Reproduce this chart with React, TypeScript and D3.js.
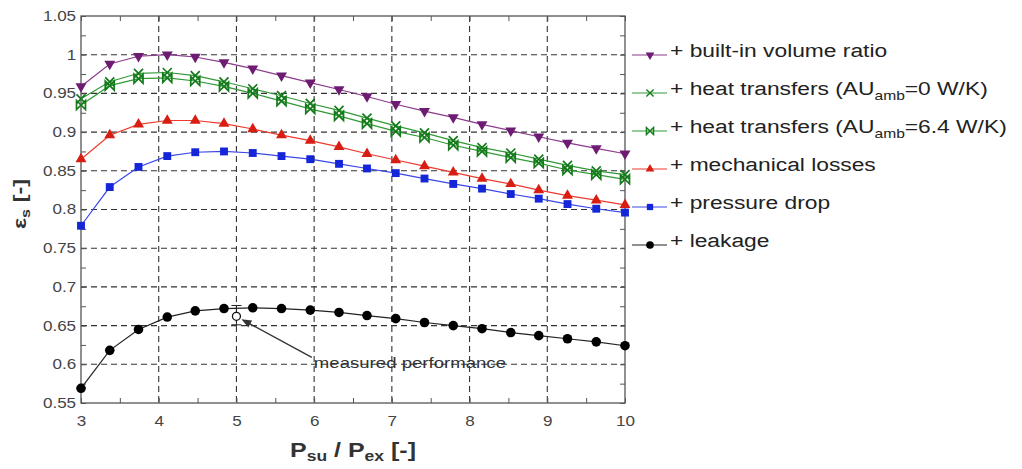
import { useEffect, useRef } from 'react';
import * as d3 from 'd3';

// pressure ratio Psu/Pex (x) and isentropic effectiveness for each model step
const pressureRatio = [3, 3.37, 3.74, 4.11, 4.47, 4.84, 5.21, 5.58, 5.95, 6.32, 6.68, 7.05, 7.42, 7.79, 8.16, 8.53, 8.89, 9.26, 9.63, 10];
const builtInVolume = [0.959, 0.988, 0.998, 1.0, 0.997, 0.99, 0.982, 0.973, 0.964, 0.955, 0.946, 0.936, 0.927, 0.919, 0.91, 0.902, 0.894, 0.886, 0.879, 0.872];
const heatTransfer0 = [0.943, 0.965, 0.976, 0.977, 0.973, 0.965, 0.956, 0.947, 0.937, 0.928, 0.918, 0.908, 0.899, 0.889, 0.88, 0.873, 0.865, 0.857, 0.85, 0.845];
const heatTransfer64 = [0.935, 0.96, 0.969, 0.97, 0.966, 0.959, 0.95, 0.94, 0.93, 0.921, 0.911, 0.901, 0.893, 0.883, 0.875, 0.867, 0.86, 0.851, 0.845, 0.839];
const mechanicalLosses = [0.865, 0.896, 0.91, 0.915, 0.915, 0.911, 0.904, 0.896, 0.889, 0.881, 0.872, 0.864, 0.856, 0.848, 0.84, 0.833, 0.825, 0.818, 0.812, 0.806];
const pressureDrop = [0.779, 0.829, 0.855, 0.869, 0.874, 0.875, 0.873, 0.869, 0.865, 0.859, 0.853, 0.847, 0.84, 0.833, 0.827, 0.82, 0.814, 0.807, 0.801, 0.796];
const leakage = [0.569, 0.618, 0.645, 0.661, 0.669, 0.672, 0.673, 0.672, 0.67, 0.667, 0.663, 0.659, 0.654, 0.65, 0.646, 0.641, 0.637, 0.633, 0.629, 0.624];

const xTicks = [3, 4, 5, 6, 7, 8, 9, 10];
const yTicks = [0.55, 0.6, 0.65, 0.7, 0.75, 0.8, 0.85, 0.9, 0.95, 1, 1.05];
const xMinorTicks = [3.5, 4.5, 5.5, 6.5, 7.5, 8.5, 9.5];
const yMinorTicks = [0.575, 0.625, 0.675, 0.725, 0.775, 0.825, 0.875, 0.925, 0.975, 1.025];

// measured point with its error bar, and where the annotation text sits
const measuredPoint = [5, 0.662];
const measuredError = [0.651, 0.676];
const annotationAt = [5.97, 0.609];
const annotationText = 'measured performance';

const FONT = '"Liberation Sans", Arial, Helvetica, sans-serif';
const SX = 1.22; // the source font is drawn wide

const series = [
  { values: builtInVolume, color: '#8c3a8c', mark: '#6e1c72', marker: 'triDown', label: [['+ built-in volume ratio']] },
  { values: heatTransfer0, color: '#2f9a35', mark: '#157a1c', marker: 'x', label: [['+ heat transfers (AU'], ['amb', 'sub'], ['=0 W/K)']] },
  { values: heatTransfer64, color: '#2f9a35', mark: '#157a1c', marker: 'bowtie', label: [['+ heat transfers (AU'], ['amb', 'sub'], ['=6.4 W/K)']] },
  { values: mechanicalLosses, color: '#ee3a2e', mark: '#d81e12', marker: 'triUp', label: [['+ mechanical losses']] },
  { values: pressureDrop, color: '#3a48e8', mark: '#1426d8', marker: 'square', label: [['+ pressure drop']] },
  { values: leakage, color: '#222', mark: '#000', marker: 'circle', label: [['+ leakage']] },
];

const drawMarker = (g, type, color) => {
  switch (type) {
    case 'triDown':
      return g.append('path').attr('d', d3.symbol(d3.symbolTriangle, 52)()).attr('transform', 'rotate(180)').attr('fill', color);
    case 'triUp':
      return g.append('path').attr('d', d3.symbol(d3.symbolTriangle, 52)()).attr('fill', color);
    case 'square':
      return g.append('path').attr('d', d3.symbol(d3.symbolSquare, 62)()).attr('fill', color);
    case 'circle':
      return g.append('path').attr('d', d3.symbol(d3.symbolCircle, 72)()).attr('fill', color);
    case 'x':
      return g.append('path').attr('d', 'M-4.5,-4.5L4.5,4.5M-4.5,4.5L4.5,-4.5').attr('stroke', color).attr('stroke-width', 1.7).attr('fill', 'none');
    case 'bowtie':
      return g.append('path').attr('d', 'M-4.5,-4.5L4.5,4.5L4.5,-4.5L-4.5,4.5Z').attr('stroke', color).attr('stroke-width', 1.7).attr('fill', 'none');
  }
};

const App = () => {
  const svgRef = useRef(null);

  useEffect(() => {
    const svg = d3.select(svgRef.current);
    svg.selectAll('*').remove();

    const x = d3.scaleLinear().domain([3, 10]).range([81, 625]);
    const y = d3.scaleLinear().domain([0.55, 1.05]).range([403, 16]);
    const [x0, x1] = x.range();
    const [y0, y1] = y.range();

    // dashed grid
    svg.append('g').selectAll('line').data(xTicks.slice(1, -1)).join('line')
      .attr('x1', d => x(d)).attr('x2', d => x(d)).attr('y1', y1).attr('y2', y0)
      .attr('stroke', '#333').attr('stroke-width', 1.1).attr('stroke-dasharray', '6,4');
    svg.append('g').selectAll('line').data(yTicks.slice(1, -1)).join('line')
      .attr('x1', x0).attr('x2', x1).attr('y1', d => y(d)).attr('y2', d => y(d))
      .attr('stroke', '#333').attr('stroke-width', 1.1).attr('stroke-dasharray', '6,4');

    // frame
    svg.append('rect').attr('x', x0).attr('y', y1).attr('width', x1 - x0).attr('height', y0 - y1)
      .attr('fill', 'none').attr('stroke', '#555').attr('stroke-width', 1.3);

    // ticks, all pointing inward
    const fmt = d => String(d);
    const blank = () => '';
    const styleAxis = g => {
      g.select('.domain').remove();
      g.attr('font-size', 14).attr('font-family', FONT);
      g.selectAll('line').attr('stroke', '#555');
      g.selectAll('text').attr('fill', '#444').attr('transform', `scale(${SX},1)`);
    };
    svg.append('g').attr('transform', `translate(0,${y0})`)
      .call(d3.axisBottom(x).tickValues(xTicks).tickSizeInner(-5).tickSizeOuter(0).tickPadding(13).tickFormat(fmt)).call(styleAxis);
    svg.append('g').attr('transform', `translate(0,${y0})`)
      .call(d3.axisBottom(x).tickValues(xMinorTicks).tickSizeInner(-5).tickSizeOuter(0).tickFormat(blank)).call(styleAxis);
    svg.append('g').attr('transform', `translate(0,${y1})`)
      .call(d3.axisTop(x).tickValues([...xTicks, ...xMinorTicks]).tickSizeInner(-5).tickSizeOuter(0).tickFormat(blank)).call(styleAxis);
    svg.append('g').attr('transform', `translate(${x0},0)`)
      .call(d3.axisLeft(y).tickValues(yTicks).tickSizeInner(-5).tickSizeOuter(0).tickPadding(4).tickFormat(fmt)).call(styleAxis);
    svg.append('g').attr('transform', `translate(${x0},0)`)
      .call(d3.axisLeft(y).tickValues(yMinorTicks).tickSizeInner(-5).tickSizeOuter(0).tickFormat(blank)).call(styleAxis);
    svg.append('g').attr('transform', `translate(${x1},0)`)
      .call(d3.axisRight(y).tickValues([...yTicks, ...yMinorTicks]).tickSizeInner(-5).tickSizeOuter(0).tickFormat(blank)).call(styleAxis);

    // series
    const line = d3.line().x(d => x(d[0])).y(d => y(d[1]));
    series.forEach(s => {
      const pts = pressureRatio.map((p, i) => [p, s.values[i]]);
      svg.append('path').datum(pts).attr('d', line)
        .attr('fill', 'none').attr('stroke', s.color).attr('stroke-width', 1.2);
      pts.forEach(p => {
        const g = svg.append('g').attr('transform', `translate(${x(p[0])},${y(p[1])})`);
        drawMarker(g, s.marker, s.mark);
      });
    });

    // measured performance point
    const [mx, my] = measuredPoint;
    const eb = svg.append('g').attr('stroke', '#222').attr('stroke-width', 1);
    eb.append('line').attr('x1', x(mx)).attr('x2', x(mx)).attr('y1', y(measuredError[0])).attr('y2', y(measuredError[1]));
    measuredError.forEach(v => {
      eb.append('line').attr('x1', x(mx) - 5).attr('x2', x(mx) + 5).attr('y1', y(v)).attr('y2', y(v));
    });
    svg.append('circle').attr('cx', x(mx)).attr('cy', y(my)).attr('r', 4)
      .attr('fill', '#fff').attr('stroke', '#111').attr('stroke-width', 1.3);

    // arrow
    const ax = x(annotationAt[0]), ay = y(annotationAt[1]);
    const tx = x(mx) + 5, ty = y(my) + 3;
    const ang = Math.atan2(ty - ay, tx - ax);
    svg.append('line').attr('x1', ax).attr('y1', ay).attr('x2', tx - 8 * Math.cos(ang)).attr('y2', ty - 8 * Math.sin(ang))
      .attr('stroke', '#333').attr('stroke-width', 1.3);
    svg.append('path').attr('d', 'M0,0L-10,-4L-10,4Z').attr('fill', '#333')
      .attr('transform', `translate(${tx},${ty}) rotate(${ang * 180 / Math.PI})`);
    svg.append('text').attr('transform', `translate(${ax + 2},${ay + 11}) scale(1.2,1)`)
      .attr('font-family', FONT).attr('font-size', 15.5).attr('fill', '#333').text(annotationText);

    // legend
    const legend = svg.append('g').attr('transform', 'translate(632,55)');
    series.forEach((s, i) => {
      const row = legend.append('g').attr('transform', `translate(0,${i * 38})`);
      row.append('line').attr('x1', 0).attr('x2', 35).attr('stroke', s.color).attr('stroke-width', 1.2);
      const m = row.append('g').attr('transform', 'translate(18,0) scale(0.8)');
      drawMarker(m, s.marker, s.mark);
      const t = row.append('text').attr('transform', `translate(38,7) scale(1.2,1)`)
        .attr('font-family', FONT).attr('font-size', 19).attr('fill', '#222');
      s.label.forEach(([txt, kind]) => {
        if (kind === 'sub') t.append('tspan').attr('font-size', 13).attr('dy', 5).text(txt);
        else t.append('tspan').attr('dy', t.selectAll('tspan').size() ? -5 : 0).text(txt);
      });
    });

    // axis labels
    const xl = svg.append('text').attr('transform', `translate(${(x0 + x1) / 2},457) scale(1.25,1)`)
      .attr('text-anchor', 'middle').attr('font-family', FONT).attr('font-weight', 'bold')
      .attr('font-size', 20).attr('fill', '#333');
    xl.append('tspan').text('P');
    xl.append('tspan').attr('font-size', 14).attr('dy', 4).text('su');
    xl.append('tspan').attr('dy', -4).text(' / P');
    xl.append('tspan').attr('font-size', 14).attr('dy', 4).text('ex');
    xl.append('tspan').attr('dy', -4).text(' [-]');

    const yl = svg.append('text').attr('transform', `translate(26,204) rotate(-90) scale(1.3,1)`)
      .attr('text-anchor', 'middle').attr('font-family', FONT).attr('font-weight', 'bold')
      .attr('font-size', 18).attr('fill', '#333');
    yl.append('tspan').text('ε');
    yl.append('tspan').attr('font-size', 12.5).attr('dy', 4).text('s');
    yl.append('tspan').attr('dy', -4).text(' [-]');
  }, []);

  return (
    <svg ref={svgRef} width="1022" height="469" viewBox="0 0 1022 469"
      style={{ position: 'absolute', left: 0, top: 0, background: '#fff' }} />
  );
};

export default App;
